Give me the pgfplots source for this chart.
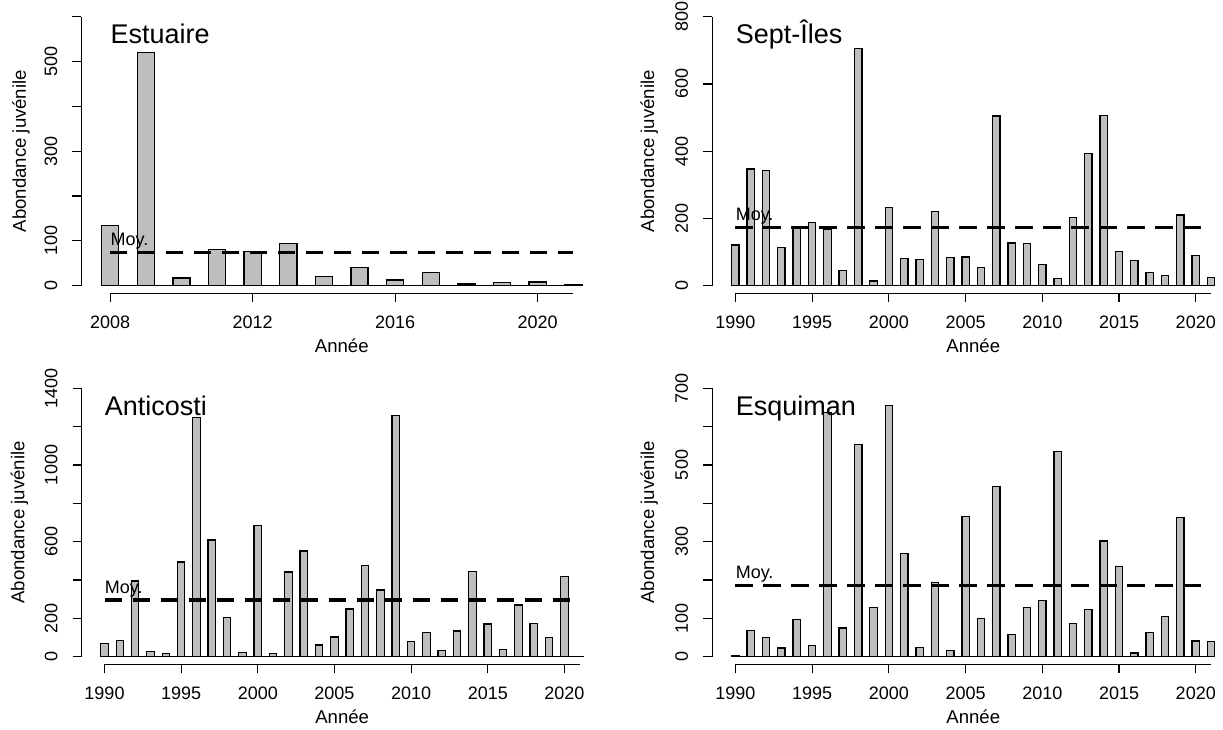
\documentclass[border=0pt]{standalone}
\usepackage{fontspec}
\setmainfont{Liberation Sans}
\usepackage{pgfplots}
\pgfplotsset{compat=1.18}
\definecolor{barfill}{HTML}{BEBEBE}
\newcommand{\smallf}{\fontsize{9bp}{10.5bp}\selectfont}
\newcommand{\labf}{\fontsize{9.3bp}{11bp}\selectfont}
\newcommand{\titlef}{\fontsize{13.5bp}{16bp}\selectfont}
\pgfplotsset{
  rpanel/.style={
    scale only axis,
    axis lines=left,
    axis line style={-, line width=0.6bp},
    tick align=outside,
    major tick length=4.5bp,
    every tick/.style={line width=0.6bp, black},
    clip=false,
    ymin=0,
    ticklabel style={font=\smallf},
    /pgf/number format/1000 sep={},
    /pgf/number format/assume math mode=true,
    yticklabel style={rotate=90, anchor=south},
    xticklabel style={anchor=north},
    xticklabel shift=3.5bp,
    yticklabel shift=4bp,
    xlabel={Année},
    xlabel style={font=\labf, at={(axis description cs:0.5,0)}, anchor=base, yshift=-33.5bp},
    ylabel={Abondance juvénile},
    axis x line shift=3.8bp,
  },
  bars/.style={ybar, bar width=0.48, fill=barfill, draw=black, line width=0.65bp},
  meanline/.style={black, line width=1.65bp, dash pattern=on 8.6bp off 5.4bp},
  baseline/.style={black, line width=0.6bp},
}
\begin{document}
\begin{tikzpicture}
\useasboundingbox (0bp,0bp) rectangle (611.5bp,365bp);

% ---- Estuaire ----
\begin{axis}[rpanel, at={(55.1bp,222.15bp)}, anchor=south west,
  width=231.55bp, height=134.5bp,
  xmin=2008, xmax=2021, ymax=600,
  xtick={2008,2012,2016,2020},
  ytick={0,100,...,600}, yticklabels={0,100,,300,,500,},
  axis y line shift=14.4bp,
  ylabel style={font=\labf, at={(axis description cs:-0.1727,0.5)}, anchor=south, inner sep=0pt}]
\addplot[bars] coordinates {(2008,135) (2009,520) (2010,17) (2011,81) (2012,76) (2013,94) (2014,20) (2015,40) (2016,13) (2017,30) (2018,4) (2019,7) (2020,8) (2021,3)};
\addplot[baseline] coordinates {(2007.75,0) (2021.25,0)};
\addplot[meanline] coordinates {(2008,74.5) (2021,74.5)};
\node[anchor=base west, inner sep=0pt, font=\smallf, yshift=3.5bp] at (axis cs:2008,74.5) {Moy.};
\node[anchor=base west, inner sep=0pt, font=\titlef] at (axis description cs:0,0.9) {Estuaire};
\end{axis}

% ---- Sept-Iles ----
\begin{axis}[rpanel, at={(367.7bp,222.15bp)}, anchor=south west,
  width=237.85bp, height=134.5bp,
  xmin=1990, xmax=2021, ymax=800,
  xtick={1990,1995,...,2020},
  ytick={0,200,...,800}, yticklabels={0,200,400,600,800},
  axis y line shift=11.6bp,
  ylabel style={font=\labf, at={(axis description cs:-0.1617,0.5)}, anchor=south, inner sep=0pt}]
\addplot[bars] coordinates {(1990,121) (1991,347) (1992,343) (1993,113) (1994,172) (1995,188) (1996,168) (1997,45) (1998,705) (1999,14) (2000,233) (2001,81) (2002,77) (2003,221) (2004,83) (2005,85) (2006,54) (2007,505) (2008,127) (2009,125) (2010,63) (2011,22) (2012,202) (2013,393) (2014,507) (2015,101) (2016,74) (2017,39) (2018,30) (2019,210) (2020,90) (2021,25)};
\addplot[baseline] coordinates {(1989.75,0) (2021.25,0)};
\addplot[meanline] coordinates {(1990,173.5) (2021,173.5)};
\node[anchor=base west, inner sep=0pt, font=\smallf, yshift=3.5bp] at (axis cs:1990,173.5) {Moy.};
\node[anchor=base west, inner sep=0pt, font=\titlef] at (axis description cs:0,0.9) {Sept-Îles};
\end{axis}

% ---- Anticosti ----
\begin{axis}[rpanel, at={(52.25bp,36.65bp)}, anchor=south west,
  width=237.65bp, height=134.2bp,
  xmin=1990, xmax=2021, ymax=1400,
  xtick={1990,1995,...,2020},
  ytick={0,200,...,1400}, yticklabels={0,200,,600,,1000,,1400},
  axis y line shift=11.5bp,
  ylabel style={font=\labf, at={(axis description cs:-0.1595,0.5)}, anchor=south, inner sep=0pt}]
\addplot[bars] coordinates {(1990,70) (1991,83) (1992,395) (1993,26) (1994,16) (1995,494) (1996,1247) (1997,609) (1998,203) (1999,23) (2000,685) (2001,17) (2002,442) (2003,551) (2004,61) (2005,103) (2006,249) (2007,477) (2008,348) (2009,1259) (2010,80) (2011,125) (2012,31) (2013,134) (2014,443) (2015,170) (2016,38) (2017,270) (2018,174) (2019,101) (2020,419) (2021,0)};
\addplot[baseline] coordinates {(1989.75,0) (2021.25,0)};
\addplot[meanline] coordinates {(1990,295.7) (2021,295.7)};
\node[anchor=base west, inner sep=0pt, font=\smallf, yshift=3.5bp] at (axis cs:1990,295.7) {Moy.};
\node[anchor=base west, inner sep=0pt, font=\titlef] at (axis description cs:0,0.9) {Anticosti};
\end{axis}

% ---- Esquiman ----
\begin{axis}[rpanel, at={(367.7bp,36.65bp)}, anchor=south west,
  width=237.85bp, height=134.2bp,
  xmin=1990, xmax=2021, ymax=700,
  xtick={1990,1995,...,2020},
  ytick={0,100,...,700}, yticklabels={0,100,,300,,500,,700},
  axis y line shift=11.6bp,
  ylabel style={font=\labf, at={(axis description cs:-0.1617,0.5)}, anchor=south, inner sep=0pt}]
\addplot[bars] coordinates {(1990,2) (1991,69) (1992,50) (1993,23) (1994,97) (1995,30) (1996,637) (1997,75) (1998,553) (1999,128) (2000,656) (2001,269) (2002,24) (2003,193) (2004,17) (2005,366) (2006,100) (2007,443) (2008,58) (2009,128) (2010,146) (2011,535) (2012,87) (2013,123) (2014,302) (2015,236) (2016,10) (2017,64) (2018,105) (2019,363) (2020,41) (2021,39)};
\addplot[baseline] coordinates {(1989.75,0) (2021.25,0)};
\addplot[meanline] coordinates {(1990,185.2) (2021,185.2)};
\node[anchor=base west, inner sep=0pt, font=\smallf, yshift=3.5bp] at (axis cs:1990,185.2) {Moy.};
\node[anchor=base west, inner sep=0pt, font=\titlef] at (axis description cs:0,0.9) {Esquiman};
\end{axis}
\end{tikzpicture}
\end{document}
